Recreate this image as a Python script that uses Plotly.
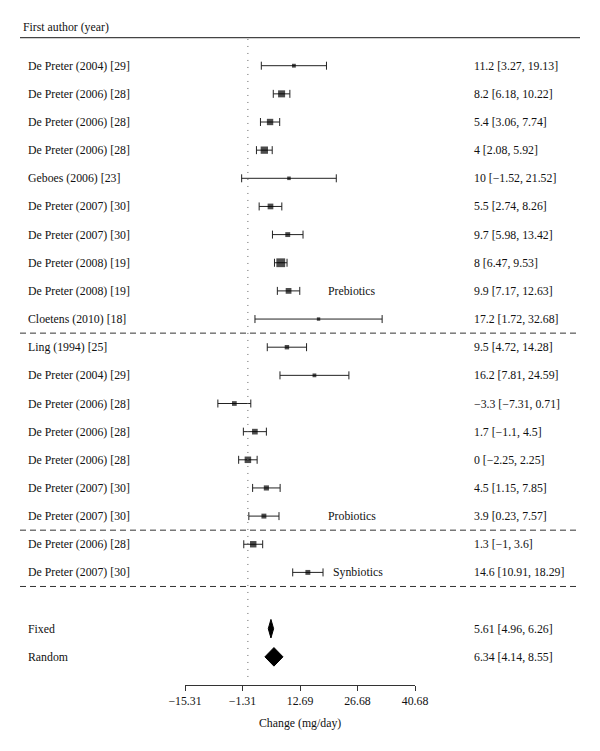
import plotly.graph_objects as go
import numpy as np

# ---------------- data ----------------
group_names = ["Prebiotics", "Probiotics", "Synbiotics"]

pre_labels = ["De Preter (2004) [29]", "De Preter (2006) [28]", "De Preter (2006) [28]",
              "De Preter (2006) [28]", "Geboes (2006) [23]", "De Preter (2007) [30]",
              "De Preter (2007) [30]", "De Preter (2008) [19]", "De Preter (2008) [19]",
              "Cloetens (2010) [18]"]
pre_est = [11.2, 8.2, 5.4, 4, 10, 5.5, 9.7, 8, 9.9, 17.2]
pre_lo = [3.27, 6.18, 3.06, 2.08, -1.52, 2.74, 5.98, 6.47, 7.17, 1.72]
pre_hi = [19.13, 10.22, 7.74, 5.92, 21.52, 8.26, 13.42, 9.53, 12.63, 32.68]

pro_labels = ["Ling (1994) [25]", "De Preter (2004) [29]", "De Preter (2006) [28]",
              "De Preter (2006) [28]", "De Preter (2006) [28]", "De Preter (2007) [30]",
              "De Preter (2007) [30]"]
pro_est = [9.5, 16.2, -3.3, 1.7, 0, 4.5, 3.9]
pro_lo = [4.72, 7.81, -7.31, -1.1, -2.25, 1.15, 0.23]
pro_hi = [14.28, 24.59, 0.71, 4.5, 2.25, 7.85, 7.57]

syn_labels = ["De Preter (2006) [28]", "De Preter (2007) [30]"]
syn_est = [1.3, 14.6]
syn_lo = [-1, 10.91]
syn_hi = [3.6, 18.29]

summary_labels = ["Fixed", "Random"]
summary_est = [5.61, 6.34]
summary_lo = [4.96, 4.14]
summary_hi = [6.26, 8.55]

tick_vals = [-15.31, -1.31, 12.69, 26.68, 40.68]
tick_text = ["\u221215.31", "\u22121.31", "12.69", "26.68", "40.68"]

header_text = "First author (year)"
axis_title = "Change (mg/day)"

# ---------------- layout helpers ----------------
FONT = "Liberation Serif"
FS = 11.8
TXT = "#111"
W, H = 600, 751
ROW0_PX = 65.7
ROW_PX = 28.15


def fmt(v):
    return f"{v:g}".replace("-", "\u2212")


groups = [
    (pre_labels, pre_est, pre_lo, pre_hi),
    (pro_labels, pro_est, pro_lo, pro_hi),
    (syn_labels, syn_est, syn_lo, syn_hi),
]

labels, est, lo, hi, rows, group_last_rows, dash_rows = [], [], [], [], [], [], []
r = 0
for (lab, e, l, h) in groups:
    for i in range(len(lab)):
        labels.append(lab[i]); est.append(e[i]); lo.append(l[i]); hi.append(h[i])
        rows.append(r)
        r += 1
    group_last_rows.append(r - 1)
    dash_rows.append(r - 0.5)
summary_rows = [r + 1, r + 2]
axis_row = r + 3
top_row = -1

est = np.array(est); lo = np.array(lo); hi = np.array(hi)

# square sizes from inverse-variance weights
half = (hi - lo) / 2
w = 1 / half ** 2
norm = (w - w.min()) / (w.max() - w.min())
sizes = 3.4 + 5.4 * norm ** 0.7

fig = go.Figure()

# studies
fig.add_trace(go.Scatter(
    x=est, y=rows, mode="markers",
    marker=dict(symbol="square", size=sizes, color="black", line=dict(width=0)),
    error_x=dict(type="data", symmetric=False, array=hi - est, arrayminus=est - lo,
                 color="#222", thickness=1, width=4),
    hoverinfo="skip", showlegend=False, cliponaxis=False,
))

# summary diamonds
dh = 0.33
for e, l, h, rr in zip(summary_est, summary_lo, summary_hi, summary_rows):
    fig.add_trace(go.Scatter(
        x=[l, e, h, e, l], y=[rr, rr - dh, rr, rr + dh, rr],
        mode="lines", fill="toself", fillcolor="black",
        line=dict(color="black", width=1), hoverinfo="skip", showlegend=False,
    ))

ann = []
font = dict(family=FONT, size=FS, color=TXT)
# header
ann.append(dict(x=21 / W, y=top_row - 0.36, xref="paper", yref="y", text=header_text,
                xanchor="left", yanchor="middle", showarrow=False, font=font))
# study labels and values
for lab, e, l, h, rr in zip(labels, est, lo, hi, rows):
    ann.append(dict(x=26 / W, y=rr, xref="paper", yref="y", text=lab,
                    xanchor="left", yanchor="middle", showarrow=False, font=font))
    ann.append(dict(x=472 / W, y=rr, xref="paper", yref="y",
                    text=f"{fmt(e)} [{fmt(l)}, {fmt(h)}]",
                    xanchor="left", yanchor="middle", showarrow=False, font=font))
# group labels
gx = [326, 326, 331]
g_off = [-1, 0, 0]
for name, rr, xx, off in zip(group_names, group_last_rows, gx, g_off):
    ann.append(dict(x=xx / W, y=rr + off, xref="paper", yref="y", text=name,
                    xanchor="left", yanchor="middle", showarrow=False, font=font))
# summary labels
for lab, e, l, h, rr in zip(summary_labels, summary_est, summary_lo, summary_hi, summary_rows):
    ann.append(dict(x=26 / W, y=rr, xref="paper", yref="y", text=lab,
                    xanchor="left", yanchor="middle", showarrow=False, font=font))
    ann.append(dict(x=472 / W, y=rr, xref="paper", yref="y",
                    text=f"{fmt(e)} [{fmt(l)}, {fmt(h)}]",
                    xanchor="left", yanchor="middle", showarrow=False, font=font))
# axis title
ann.append(dict(x=0.5 * (185 + 415) / W, y=axis_row + 1.36, xref="paper", yref="y",
                text=axis_title, xanchor="center", yanchor="middle", showarrow=False,
                font=font))

shapes = []
# top solid rule
shapes.append(dict(type="line", xref="paper", yref="y", x0=20 / W, x1=580 / W,
                   y0=top_row, y1=top_row, line=dict(color="#444", width=1.3)))
# dashed separators
for dr in dash_rows:
    shapes.append(dict(type="line", xref="paper", yref="y", x0=20 / W, x1=580 / W,
                       y0=dr, y1=dr, line=dict(color="#333", width=1, dash="6px,4px")))
# reference (zero) dotted line
shapes.append(dict(type="line", xref="x", yref="y", x0=0, x1=0,
                   y0=top_row + 0.05, y1=axis_row - 0.2,
                   line=dict(color="#666", width=1, dash="1px,6px")))

y_top = -ROW0_PX / ROW_PX
y_bot = (H - ROW0_PX) / ROW_PX
axis_px = ROW0_PX + axis_row * ROW_PX

fig.update_layout(
    width=W, height=H,
    margin=dict(l=0, r=0, t=0, b=0),
    paper_bgcolor="white", plot_bgcolor="white",
    annotations=ann, shapes=shapes,
    xaxis=dict(domain=[185 / W, 415 / W], range=[tick_vals[0], tick_vals[-1]],
               anchor="free", position=(H - axis_px) / H,
               showline=True, linecolor="#333", linewidth=1,
               ticks="outside", ticklen=5, tickwidth=1, tickcolor="#333",
               tickvals=tick_vals, ticktext=tick_text,
               tickfont=font,
               showgrid=False, zeroline=False, automargin=False, fixedrange=True),
    yaxis=dict(domain=[0, 1], range=[y_bot, y_top], visible=False,
               showgrid=False, zeroline=False, fixedrange=True),
    showlegend=False,
)

fig.write_html("out.html",
               config={"displayModeBar": False},
               post_script="document.body.style.margin='0';document.body.style.padding='0';")
